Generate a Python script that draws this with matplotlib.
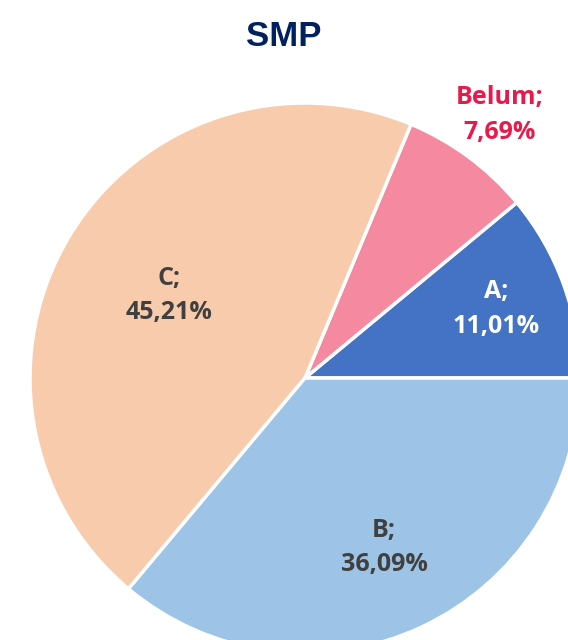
import numpy as np
import matplotlib
matplotlib.use("Agg")
import matplotlib.pyplot as plt

# data
labels = ["A", "Belum", "C", "B"]
values = [11.01, 7.69, 45.21, 36.09]
colors = ["#4472C4", "#F4899F", "#F8CBAD", "#9DC3E6"]
txt_colors = ["white", "#E8194C", "#404040", "#404040"]
txt_dist = [0.74, 1.19, 0.58, 0.68]

fig = plt.figure(figsize=(5.68, 6.40), dpi=100)
ax = fig.add_axes([0, 0, 1, 1])

cx, cy, R = 305, 640 - 378, 275
wedges, _ = ax.pie(values, colors=colors, startangle=0, counterclock=True,
                   center=(cx, cy), radius=R, frame=True,
                   wedgeprops=dict(edgecolor="white", linewidth=2.5))
ax.set_xlim(0, 568)
ax.set_ylim(0, 640)
ax.set_aspect("equal")
ax.axis("off")

for w, lab, v, c, d in zip(wedges, labels, values, txt_colors, txt_dist):
    ang = np.deg2rad((w.theta1 + w.theta2) / 2)
    x = cx + d * R * np.cos(ang)
    y = cy + d * R * np.sin(ang)
    s = lab + ";\n" + ("%.2f" % v).replace(".", ",") + "%"
    ax.text(x, y, s, ha="center", va="center", fontsize=18, fontweight="bold",
            color=c, family="Open Sans", linespacing=1.48)

fig.text(0.5, 1 - 36 / 640, "SMP", ha="center", va="center", fontsize=25,
         fontweight="bold", color="#002060", family="Liberation Sans")

fig.savefig("out.png", dpi=100)
